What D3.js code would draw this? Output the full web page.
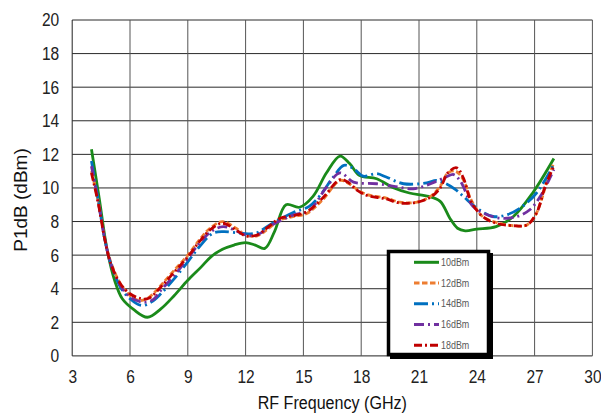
<!DOCTYPE html>
<html><head><meta charset="utf-8">
<script src="https://cdn.jsdelivr.net/npm/d3@7"></script>
<style>
html,body{margin:0;padding:0;background:#fff;}
svg{display:block;}
text{font-family:"Liberation Sans",Arial,sans-serif;}
</style></head>
<body>
<svg id="chart" width="601" height="417"></svg>
<script>
// ---- data ----
const xTicks = [3,6,9,12,15,18,21,24,27,30];
const yTicks = [0,2,4,6,8,10,12,14,16,18,20];
const seriesNames = ["10dBm","12dBm","14dBm","16dBm","18dBm"];
const seriesColors = ["#1a8a1a","#ed7d31","#0070c0","#7030a0","#c00000"];
const seriesDash = [null,"5.5 2.5","14 4 2 4","10 4 2 4","8 3 2 3"];

const p10dBm = [[4,12.3],[4.4,9.4],[4.8,6.4],[5.2,4.5],[5.6,3.4],[6.2,2.75],[6.9,2.3],[7.6,2.8],[8.3,3.6],[9,4.5],[9.7,5.3],[10.2,5.9],[10.8,6.35],[11.4,6.6],[12,6.75],[12.5,6.6],[13,6.4],[13.5,7.4],[14.1,9.0],[14.8,8.85],[15.5,9.5],[16.2,10.9],[16.9,11.9],[17.4,11.45],[17.9,10.75],[18.8,10.55],[19.7,10.0],[20.5,9.7],[21.5,9.5],[22.1,9.2],[22.6,8.2],[23.0,7.6],[23.4,7.45],[24,7.55],[25,7.7],[25.9,8.3],[26.9,9.7],[28,11.75]];
const p12dBm = [[4,11.0],[4.35,9.2],[4.7,6.9],[5.0,5.6],[5.5,4.3],[6,3.6],[6.5,3.3],[7.0,3.5],[7.6,4.2],[8.3,5.1],[9,6.0],[9.6,6.9],[10.15,7.6],[10.8,8.0],[11.5,7.6],[12,7.2],[12.6,7.15],[13.2,7.6],[13.8,8.1],[14.5,8.3],[15.2,8.5],[16.0,9.3],[16.9,10.45],[17.3,10.3],[17.8,9.9],[18.3,9.6],[19.3,9.4],[20,9.15],[20.9,9.15],[21.6,9.5],[22.1,10.1],[22.5,10.9],[22.9,11.0],[23.3,10.5],[23.7,9.3],[24.3,8.3],[25,7.95],[25.9,7.75],[26.6,7.8],[27.0,8.3],[27.3,9.1],[27.7,10.6],[28,11.5]];
const p14dBm = [[4,11.6],[4.35,9.3],[4.7,6.9],[5.0,5.5],[5.5,4.1],[6,3.4],[6.6,3.0],[7.1,3.2],[7.6,3.7],[8.3,4.6],[9,5.6],[9.6,6.5],[10.3,7.3],[10.85,7.4],[11.8,7.3],[12.5,7.3],[13.4,7.9],[14.5,8.55],[15.3,8.9],[15.9,9.6],[16.55,10.65],[17.1,11.35],[17.6,11.15],[18.1,10.7],[18.8,10.85],[19.3,10.65],[20.2,10.25],[21.4,10.3],[21.9,10.45],[22.4,10.25],[22.9,9.9],[23.3,9.5],[24,8.8],[24.85,8.3],[25.55,8.4],[26.25,8.8],[27.1,9.7],[28,11.4]];
const p16dBm = [[4,11.3],[4.35,9.2],[4.7,6.9],[5.0,5.5],[5.5,4.2],[6,3.5],[6.7,3.2],[7.2,3.35],[7.6,3.9],[8.3,4.8],[9,5.8],[9.6,6.7],[10.2,7.4],[10.85,7.7],[11.5,7.45],[12,7.2],[12.6,7.2],[13.3,7.75],[14.5,8.4],[15.3,8.65],[16.2,10.05],[16.9,10.9],[17.6,10.35],[18.8,10.25],[19.7,10.1],[20.7,9.95],[21.6,10.25],[22.4,10.65],[22.8,10.8],[23.15,10.4],[23.8,8.9],[24.35,8.5],[25.2,8.2],[26.1,8.3],[26.75,8.7],[27.3,9.5],[28,11.1]];
const p18dBm = [[4,10.9],[4.35,9.1],[4.7,6.9],[5.0,5.5],[5.5,4.3],[6,3.7],[6.6,3.4],[7.0,3.45],[7.6,4.1],[8.3,5.0],[9,5.9],[9.6,6.8],[10.15,7.5],[10.8,7.9],[11.5,7.5],[12,7.15],[12.6,7.2],[13.2,7.7],[13.8,8.2],[14.5,8.35],[15.2,8.6],[16.0,9.4],[16.9,10.5],[17.3,10.35],[17.8,9.85],[18.3,9.55],[19.3,9.35],[20,9.1],[20.9,9.15],[21.6,9.45],[22.1,10.0],[22.5,10.9],[22.95,11.2],[23.3,10.6],[23.7,9.2],[24.3,8.3],[25,7.9],[25.9,7.75],[26.6,7.8],[27.1,8.5],[27.55,10.1],[28,11.3]];
const seriesData = [p10dBm,p12dBm,p14dBm,p16dBm,p18dBm];

// ---- chart ----
const svg = d3.select("#chart");
const x = d3.scaleLinear().domain([3,30]).range([72.2,592.4]);
const y = d3.scaleLinear().domain([0,20]).range([355.9,20]);
const NARROW = 0.84;

// gridlines
const grid = svg.append("g");
grid.selectAll("line.h").data(yTicks).join("line")
  .attr("x1",x(3)).attr("x2",x(30)).attr("y1",d=>y(d)).attr("y2",d=>y(d))
  .attr("stroke",d=>d===0?"#222":"#2a2a2a").attr("stroke-width",1);
grid.selectAll("line.v").data(xTicks).join("line")
  .attr("y1",y(0)).attr("y2",y(20)).attr("x1",d=>x(d)).attr("x2",d=>x(d))
  .attr("stroke",d=>d===3?"#222":"#555").attr("stroke-width",1);

// axes labels via d3 axes
const yAxis = d3.axisLeft(y).tickValues(yTicks).tickSize(0).tickPadding(0);
const gy = svg.append("g").attr("transform",`translate(${x(3)-13},0)`).call(yAxis);
gy.select(".domain").remove();
gy.selectAll("text").attr("x",0).attr("font-size",18.5).attr("fill","#222")
  .attr("transform",`scale(${NARROW},1)`);

const xAxis = d3.axisBottom(x).tickValues(xTicks).tickSize(0).tickPadding(14);
const gx = svg.append("g").attr("transform",`translate(0,${y(0)})`).call(xAxis);
gx.select(".domain").remove();
gx.selectAll("text").attr("font-size",18.5).attr("fill","#222")
  .attr("transform",`scale(${NARROW},1)`);

// titles
svg.append("text").attr("transform",`translate(${(x(3)+x(30))/2},409) scale(0.87,1)`)
  .attr("text-anchor","middle").attr("font-size",18.5).attr("fill","#111")
  .text("RF Frequency (GHz)");
svg.append("text").attr("transform","translate(27,200) rotate(-90)")
  .attr("text-anchor","middle").attr("font-size",19).attr("fill","#111")
  .text("P1dB (dBm)");

// lines
const line = d3.line().x(d=>x(d[0])).y(d=>y(d[1])).curve(d3.curveCatmullRom.alpha(0.5));
const order = [0,1,2,3,4];
svg.append("g").selectAll("path").data(order).join("path")
  .attr("d",i=>line(seriesData[i]))
  .attr("fill","none").attr("stroke",i=>seriesColors[i]).attr("stroke-width",2.8)
  .attr("stroke-dasharray",i=>seriesDash[i]);

// legend
const lg = svg.append("g");
lg.append("rect").attr("x",390).attr("y",253).attr("width",103).attr("height",106).attr("fill","#000");
lg.append("rect").attr("x",388.5).attr("y",251.5).attr("width",100).attr("height",103)
  .attr("fill","#fff").attr("stroke","#000").attr("stroke-width",3.5);
const rowY = d3.scaleLinear().domain([0,4]).range([262.3,345.3]);
seriesNames.forEach((n,i)=>{
  lg.append("line").attr("x1",414).attr("x2",439).attr("y1",rowY(i)).attr("y2",rowY(i))
    .attr("stroke",seriesColors[i]).attr("stroke-width",3)
    .attr("stroke-dasharray",seriesDash[i]);
  lg.append("text").attr("transform",`translate(441,${rowY(i)}) scale(0.85,1)`).attr("dy","0.35em")
    .attr("font-size",10.5).attr("fill","#595959").text(n);
});
</script>
</body></html>
